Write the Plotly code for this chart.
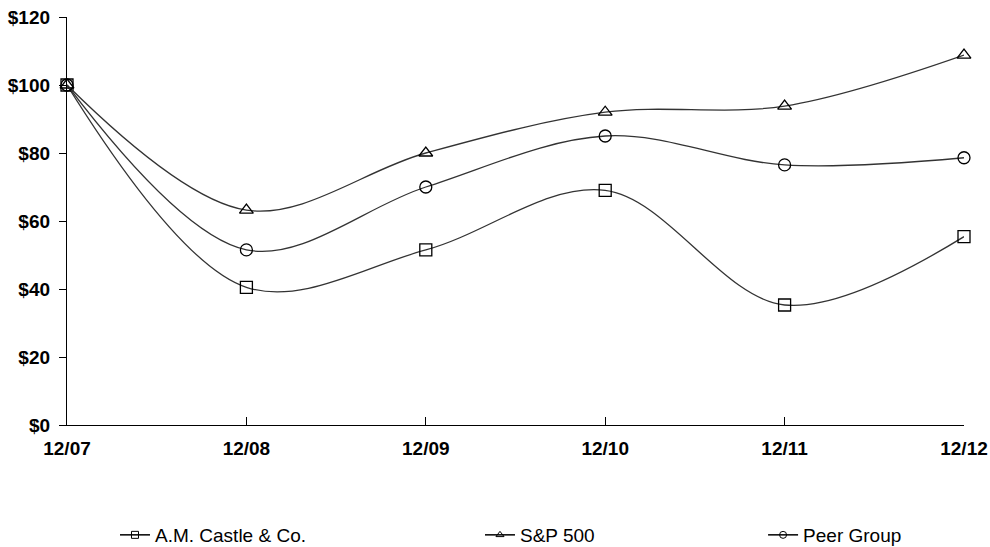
import plotly.graph_objects as go

categories = ["12/07", "12/08", "12/09", "12/10", "12/11", "12/12"]
castle = [100, 40.5, 51.5, 69.0, 35.3, 55.4]
sp500 = [100, 63.2, 80.0, 92.0, 93.8, 108.8]
peer = [100, 51.5, 70.0, 85.0, 76.5, 78.6]
y_ticks = [0, 20, 40, 60, 80, 100, 120]
y_labels = ["$" + str(v) for v in y_ticks]

series = [
    ("A.M. Castle & Co.", castle, "square-open", "legend"),
    ("S&P 500", sp500, "triangle-up-open", "legend2"),
    ("Peer Group", peer, "circle-open", "legend3"),
]

LINE_COLOR = "#333333"
fig = go.Figure()
for name, vals, sym, lg in series:
    fig.add_trace(go.Scatter(
        x=categories, y=vals, name=name, mode="lines+markers", showlegend=False,
        line=dict(color=LINE_COLOR, width=1.3, shape="spline", smoothing=1.0),
        marker=dict(symbol=sym, size=12, color="#000000", line=dict(color="#000000", width=1.3)),
        cliponaxis=False,
    ))
    # legend entry with the small marker used in the reference legend
    fig.add_trace(go.Scatter(
        x=[None], y=[None], name=name, mode="lines+markers", legend=lg,
        line=dict(color="#000000", width=1.5),
        marker=dict(symbol=sym, size=7, color="#000000", line=dict(color="#000000", width=1)),
    ))

leg_common = dict(orientation="h", yanchor="middle", xanchor="left",
                  font=dict(family="Liberation Sans", size=19, color="#000"),
                  bgcolor="rgba(0,0,0,0)")
tick_font = dict(family="Liberation Sans", size=19, color="#000", weight="bold")
fig.update_layout(
    width=990, height=547,
    margin=dict(l=67, r=26, t=17, b=122, autoexpand=False),
    paper_bgcolor="white", plot_bgcolor="white",
    showlegend=True,
    legend=dict(x=0.0535, y=-0.2696, **leg_common),
    legend2=dict(x=0.4604, y=-0.2696, **leg_common),
    legend3=dict(x=0.776, y=-0.2696, **leg_common),
    xaxis=dict(type="category", range=[0, 5], showgrid=False, zeroline=False,
               automargin=False,
               showline=True, linecolor="#000", linewidth=1.3,
               ticks="inside", ticklen=8, tickcolor="#000", tickwidth=1.3,
               ticklabelstandoff=6, tickfont=tick_font),
    yaxis=dict(range=[0, 120], tickvals=y_ticks, ticktext=y_labels, showgrid=False,
               automargin=False,
               zeroline=False, showline=True, linecolor="#000", linewidth=1.3,
               ticks="outside", ticklen=7, tickcolor="#000", tickwidth=1.3,
               ticklabelstandoff=5, tickfont=tick_font),
)
fig.write_html("out.html", config={"displayModeBar": False},
               post_script="document.body.style.margin='0';")
